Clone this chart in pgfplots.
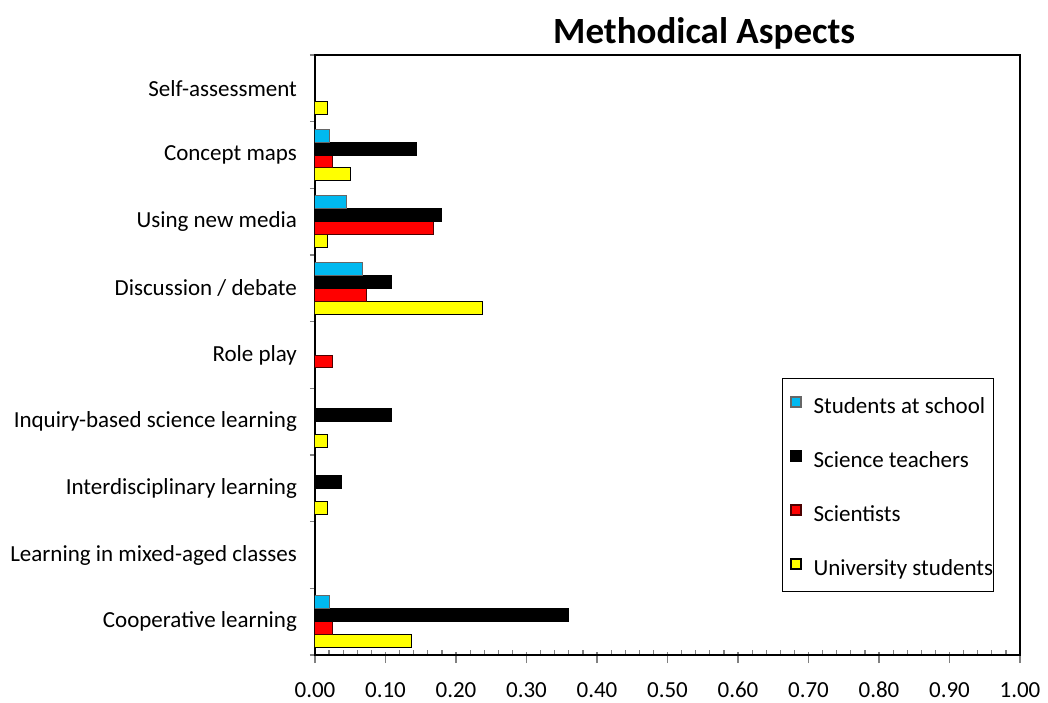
\documentclass[border=0pt]{standalone}
\usepackage{fontspec}
\setmainfont{Carlito}
\usepackage{pgfplots}
\pgfplotsset{compat=1.18}
\definecolor{cblue}{RGB}{0,185,240}
\definecolor{cred}{RGB}{255,0,0}
\definecolor{cyel}{RGB}{255,255,0}
\newcommand{\lab}{\fontsize{11.5}{13.8}\selectfont}
\begin{document}
\begin{tikzpicture}
\begin{axis}[
  at={(0pt,0pt)}, anchor=south west,
  scale only axis, width=352.5pt, height=300pt,
  xbar=0pt, bar width=6.45pt,
  xmin=0, xmax=1, ymin=-0.5, ymax=8.5,
  axis line style={line width=0.8pt},
  xtick pos=bottom, ytick pos=left,
  xtick={0,0.1,...,1.0},
  minor x tick num=4,
  xticklabel style={font=\lab, text height=8pt, text depth=0pt, yshift=-4pt, /pgf/number format/fixed, /pgf/number format/fixed zerofill, /pgf/number format/precision=2, /pgf/number format/assume math mode=true},
  ytick={0,...,8},
  yticklabels={Cooperative learning,Learning in mixed-aged classes,Interdisciplinary learning,Inquiry-based science learning,Role play,Discussion / debate,Using new media,Concept maps,Self-assessment},
  yticklabel style={font=\lab, xshift=0pt},
  minor ytick={-0.5,0.5,...,8.5},
  major y tick style={draw=none},
  minor y tick style={line width=0.8pt},
  major x tick style={line width=0.7pt, yshift=1.5pt},
  minor x tick style={line width=0.6pt, yshift=2.6pt},
  tick align=outside,
  major tick length=5.5pt,
  minor tick length=2.6pt,
  title={Methodical Aspects},
  title style={font=\fontsize{18.5}{22}\selectfont\bfseries, at={(rel axis cs:0.552,1)}, anchor=base, yshift=0pt},
  legend style={at={(rel axis cs:0.662,0.462)}, anchor=north west, draw=black, line width=0.6pt, fill=white,
    font=\lab, inner xsep=4pt, inner ysep=7.5pt, row sep=16.5pt,
    nodes={inner sep=0pt, text height=10pt, text depth=0.5pt}},
  legend cell align=left,
  reverse legend,
  legend image code/.code={\draw[#1,line width=0.6pt] (0pt,-1.5pt) rectangle (5pt,3.5pt);},
  legend style={/tikz/every odd column/.append style={column sep=6pt}},
]
\addplot[draw=black, line width=0.5pt, fill=cyel] coordinates {(0.137,0) (0.018,2) (0.018,3) (0.238,5) (0.018,6) (0.051,7) (0.018,8)};
\addplot[draw=black!70!red, line width=0.5pt, fill=cred] coordinates {(0.025,0) (0.025,4) (0.073,5) (0.168,6) (0.025,7)};
\addplot[draw=black, line width=0.5pt, fill=black] coordinates {(0.360,0) (0.038,2) (0.109,3) (0.109,5) (0.180,6) (0.144,7)};
\addplot[draw=black!60, line width=0.5pt, fill=cblue] coordinates {(0.020,0) (0.067,5) (0.044,6) (0.020,7)};
\legend{\makebox[86pt][l]{University students},Scientists,Science teachers,Students at school}
\end{axis}
\pgfresetboundingbox
\useasboundingbox (-157.5pt,-23.5pt) rectangle (366.5pt,327.5pt);
\end{tikzpicture}
\end{document}
